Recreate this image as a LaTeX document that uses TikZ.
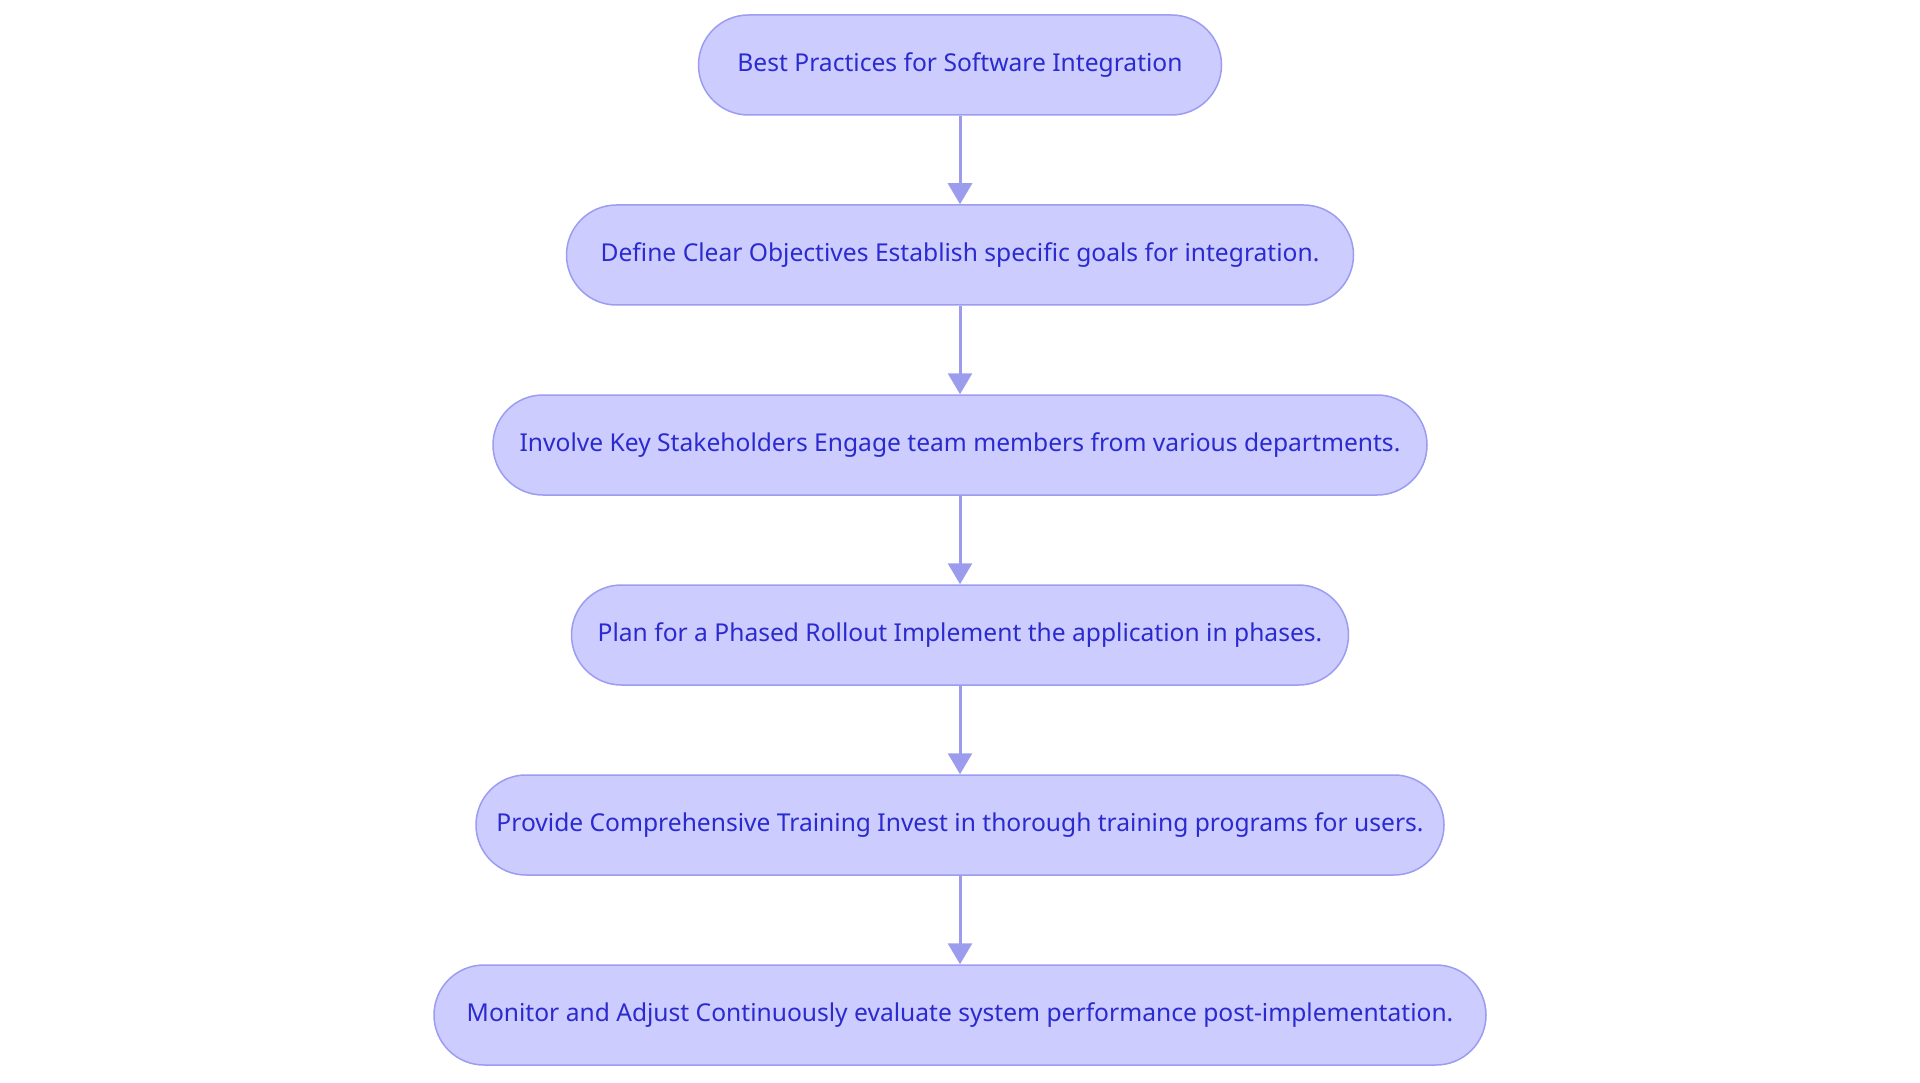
\documentclass[tikz,border=0pt]{standalone}
\usepackage{fontspec}
\setmainfont{Noto Sans}
\usetikzlibrary{arrows.meta}
\definecolor{nodefill}{HTML}{CCCCFF}
\definecolor{nodeline}{HTML}{9C9CF0}
\definecolor{nodetext}{HTML}{2A2ACF}
\definecolor{arrowcol}{HTML}{9C9CEE}
\tikzset{
  stadium/.style={draw=nodeline, fill=nodefill, line width=1.5pt, rounded corners=50pt,
    minimum height=100pt, inner sep=0pt, text=nodetext,
    font=\fontsize{24.6pt}{29pt}\selectfont},
  flowarrow/.style={draw=arrowcol, line width=3pt,
    -{Triangle[length=21pt,width=24pt,fill=arrowcol]}, shorten >=0pt}
}
\begin{document}
\begin{tikzpicture}[x=1pt,y=1pt]
\useasboundingbox (0,0) rectangle (1920,-1083);
\node[stadium, minimum width=523pt] (n1) at (960,-65) {Best Practices for Software Integration};
\node[stadium, minimum width=787pt] (n2) at (960,-255) {Define Clear Objectives Establish specific goals for integration.};
\node[stadium, minimum width=934pt] (n3) at (960,-445) {Involve Key Stakeholders Engage team members from various departments.};
\node[stadium, minimum width=777pt] (n4) at (960,-635) {Plan for a Phased Rollout Implement the application in phases.};
\node[stadium, minimum width=968pt] (n5) at (960,-825) {Provide Comprehensive Training Invest in thorough training programs for users.};
\node[stadium, minimum width=1052pt] (n6) at (960,-1015) {Monitor and Adjust Continuously evaluate system performance post-implementation.};
\draw[flowarrow] (n1.south) -- (n2.north);
\draw[flowarrow] (n2.south) -- (n3.north);
\draw[flowarrow] (n3.south) -- (n4.north);
\draw[flowarrow] (n4.south) -- (n5.north);
\draw[flowarrow] (n5.south) -- (n6.north);
\end{tikzpicture}
\end{document}
